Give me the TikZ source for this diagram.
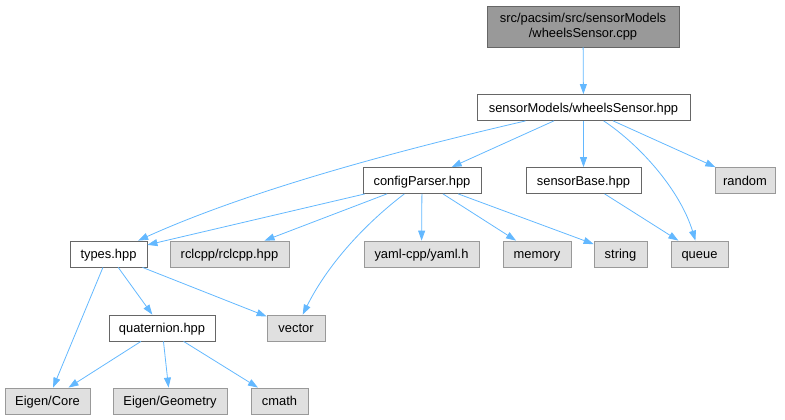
\documentclass[tikz,border=0pt]{standalone}
\usepackage{fontspec}
\setmainfont{Liberation Sans}
\usetikzlibrary{arrows.meta}
\definecolor{edgec}{RGB}{99,184,255}
\definecolor{boxw}{RGB}{102,102,102}
\definecolor{extd}{RGB}{153,153,153}
\definecolor{extf}{RGB}{224,224,224}
\definecolor{topf}{RGB}{153,153,153}
\begin{document}
\begin{tikzpicture}[x=1pt,y=-1pt,
  base/.style={line width=0.8pt, inner sep=0pt,
    font=\fontsize{12.9}{14.5}\selectfont, text=black},
  box/.style={base, draw=boxw, fill=white, minimum height=26pt,
    text height=9.3pt, text depth=0pt},
  ext/.style={box, draw=extd, fill=extf},
  topbox/.style={base, fill=topf, draw=boxw, align=center, minimum height=41pt},
  dep/.style={draw=edgec, line width=0.8pt, -{Triangle[length=10pt,width=7pt]}}]
\useasboundingbox (0,0) rectangle (785,420);

\node[topbox, minimum width=192pt] (cpp) at (583,26.5) {src/pacsim/src/sensorModels\\/wheelsSensor.cpp};
\node[box, minimum width=213pt] (wh) at (583.5,107.5) {sensorModels/wheelsSensor.hpp};
\node[box, minimum width=118pt] (cp) at (422,180.5) {configParser.hpp};
\node[box, minimum width=115pt] (sb) at (583.5,180.5) {sensorBase.hpp};
\node[ext, minimum width=60pt] (rnd) at (745,180.5) {random};
\node[box, minimum width=77pt] (ty) at (108.5,254) {types.hpp};
\node[ext, minimum width=119pt] (rcl) at (229.5,254) {rclcpp/rclcpp.hpp};
\node[ext, minimum width=115pt] (yaml) at (421.5,254) {yaml-cpp/yaml.h};
\node[ext, minimum width=68pt] (mem) at (537,254) {memory};
\node[ext, minimum width=53pt] (str) at (620.5,254) {string};
\node[ext, minimum width=57pt] (qu) at (699.5,254) {queue};
\node[ext, minimum width=58pt] (vec) at (296,328) {vector};
\node[box, minimum width=106pt] (qt) at (162,328) {quaternion.hpp};
\node[ext, minimum width=85pt] (ec) at (47.5,401) {Eigen/Core};
\node[ext, minimum width=114pt] (eg) at (170,401) {Eigen/Geometry};
\node[ext, minimum width=57pt] (cm) at (279.5,401) {cmath};

\draw[dep] (cpp) -- (wh);
\draw[dep] (wh) .. controls (400,150) and (250,190) .. (ty);
\draw[dep] (wh) -- (cp);
\draw[dep] (wh) -- (sb);
\draw[dep] (wh) .. controls (640,145) and (680,190) .. (qu);
\draw[dep] (wh) -- (rnd);
\draw[dep] (cp) -- (ty);
\draw[dep] (cp) -- (rcl);
\draw[dep] (cp) -- (yaml);
\draw[dep] (cp) -- (mem);
\draw[dep] (cp) -- (str);
\draw[dep] (cp) .. controls (370,220) and (330,260) .. (vec);
\draw[dep] (sb) -- (qu);
\draw[dep] (ty) -- (ec);
\draw[dep] (ty) -- (qt);
\draw[dep] (ty) -- (vec);
\draw[dep] (qt) -- (ec);
\draw[dep] (qt) -- (eg);
\draw[dep] (qt) -- (cm);
\end{tikzpicture}
\end{document}
